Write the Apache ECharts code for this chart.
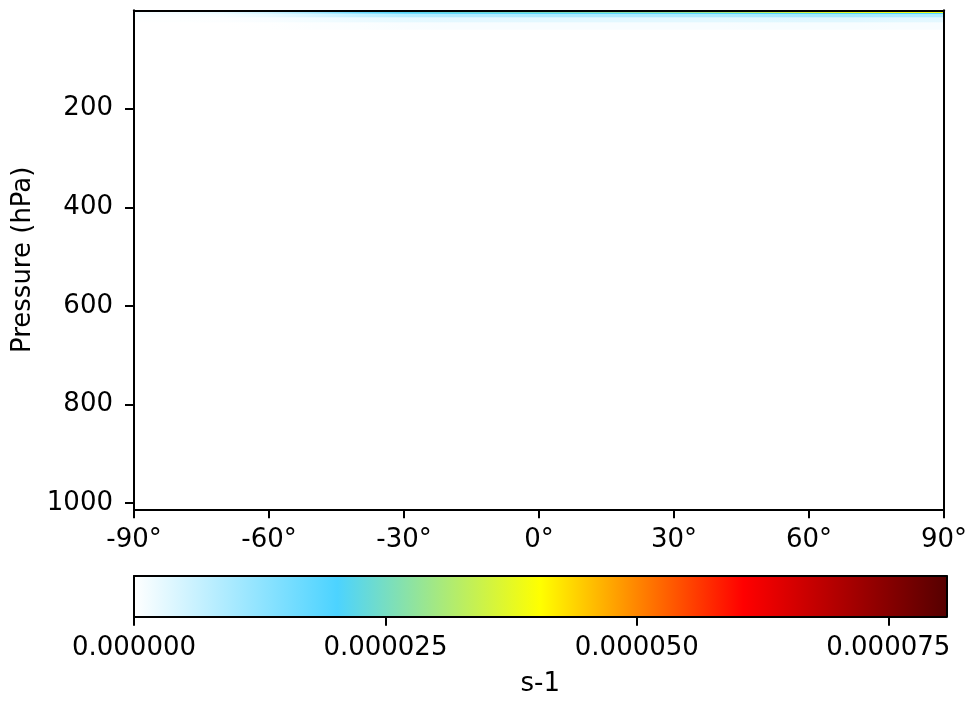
<!DOCTYPE html>
<html><head><meta charset="utf-8">
<script src="https://cdn.jsdelivr.net/npm/echarts@6/dist/echarts.min.js"></script>
<style>html,body{margin:0;padding:0;background:#fff}#c{width:970px;height:701px}</style>
</head><body><div id="c"></div>
<script>
// ---- data ----
const latitudes = [-90,-80,-70,-60,-50,-40,-30,-20,-10,0,10,20,30,40,50,60,70,80,90];
const levels = [1, 2, 3, 5, 7, 10, 20, 30, 50];   // hPa (top levels, rest of column ~0)
const lev1  = [0.3e-5,0.4e-5,0.6e-5,1.2e-5,2.0e-5,2.9e-5,3.8e-5,4.3e-5,4.6e-5,4.8e-5,5.1e-5,5.4e-5,5.7e-5,6.0e-5,6.6e-5,7.6e-5,7.8e-5,6.0e-5,4.6e-5];
const lev2  = [0.25e-5,0.35e-5,0.55e-5,1.1e-5,1.9e-5,2.8e-5,3.6e-5,4.0e-5,4.3e-5,4.5e-5,4.8e-5,5.1e-5,5.4e-5,5.6e-5,6.2e-5,7.2e-5,7.4e-5,5.5e-5,4.3e-5];
const lev3  = [0.2e-5,0.3e-5,0.5e-5,1.0e-5,1.7e-5,2.4e-5,3.0e-5,3.3e-5,3.5e-5,3.6e-5,3.8e-5,4.0e-5,4.2e-5,4.4e-5,4.8e-5,5.6e-5,5.8e-5,4.6e-5,4.0e-5];
const lev5  = [0.1e-5,0.15e-5,0.3e-5,0.6e-5,1.1e-5,1.7e-5,2.1e-5,2.3e-5,2.4e-5,2.5e-5,2.6e-5,2.7e-5,2.8e-5,3.0e-5,3.3e-5,3.6e-5,3.8e-5,3.9e-5,3.9e-5];
const lev7  = [0.08e-5,0.12e-5,0.2e-5,0.45e-5,0.8e-5,1.2e-5,1.6e-5,1.8e-5,1.85e-5,1.9e-5,1.9e-5,1.9e-5,1.9e-5,1.95e-5,2.0e-5,2.1e-5,2.1e-5,2.0e-5,1.9e-5];
const lev10 = [0.04e-5,0.06e-5,0.1e-5,0.25e-5,0.45e-5,0.65e-5,0.8e-5,0.85e-5,0.85e-5,0.9e-5,0.9e-5,0.9e-5,0.9e-5,0.9e-5,0.95e-5,1.0e-5,1.0e-5,0.9e-5,0.85e-5];
const lev20 = [0.01e-5,0.02e-5,0.03e-5,0.08e-5,0.15e-5,0.22e-5,0.28e-5,0.3e-5,0.3e-5,0.32e-5,0.32e-5,0.32e-5,0.32e-5,0.32e-5,0.34e-5,0.35e-5,0.35e-5,0.32e-5,0.3e-5];
const lev30 = [0,0,0.005e-5,0.01e-5,0.03e-5,0.05e-5,0.07e-5,0.08e-5,0.08e-5,0.08e-5,0.08e-5,0.08e-5,0.08e-5,0.08e-5,0.09e-5,0.09e-5,0.09e-5,0.08e-5,0.08e-5];
const lev50 = [0,0,0,0,0,0,0,0,0,0,0,0,0,0,0,0,0,0,0];
const fieldRows = [lev1, lev2, lev3, lev5, lev7, lev10, lev20, lev30, lev50];

const xTickLabels = [-90,-60,-30,0,30,60,90];
const yTickLabels = [200,400,600,800,1000];
const cbarTicks = [0, 0.000025, 0.00005, 0.000075];
const cmapColors = ['#ffffff','#4cd3ff','#ffff00','#ff0000','#560000'];
const vmin = 0, vmax = 0.0000808;
const pTop = 0.5, pBottom = 1012.5;

// ---- colormap helper ----
function hexToRgb(h){return [parseInt(h.substr(1,2),16),parseInt(h.substr(3,2),16),parseInt(h.substr(5,2),16)];}
const cmapRgb = cmapColors.map(hexToRgb);
function cmap(v){
  let t = (v - vmin) / (vmax - vmin);
  t = Math.max(0, Math.min(1, t));
  const n = cmapRgb.length - 1;
  const k = Math.min(n - 1, Math.floor(t * n));
  const f = t * n - k;
  const a = cmapRgb[k], b = cmapRgb[k+1];
  const c = a.map((x,i)=>Math.round(x + (b[i]-x)*f));
  return 'rgb(' + c.join(',') + ')';
}

// ---- build cells: [latA, latB, pUpperEdge, pLowerEdge, vA, vB] ----
const cells = [];
for (let j = 0; j < levels.length; j++) {
  const up = j === 0 ? pTop : (levels[j-1] + levels[j]) / 2;
  const lo = j === levels.length - 1 ? levels[j] : (levels[j] + levels[j+1]) / 2;
  const row = fieldRows[j];
  for (let i = 0; i < latitudes.length - 1; i++) {
    cells.push([latitudes[i], latitudes[i+1], up, lo, row[i], row[i+1]]);
  }
}

const FONT = 'DejaVu Sans';
const FS = 26;
const axisLineStyle = {color:'#000', width:2};
const chart = echarts.init(document.getElementById('c'), null, {renderer:'canvas'});

function spine(extra){
  return Object.assign({
    type:'value', axisLine:{show:true, onZero:false, lineStyle:axisLineStyle},
    axisTick:{show:false}, axisLabel:{show:false}, splitLine:{show:false}, z:10
  }, extra);
}

chart.setOption({
  animation:false,
  backgroundColor:'#ffffff',
  grid:[
    {left:134, top:10.3, width:812.6, height:499},
    {left:134, top:576, width:812.6, height:40.7}
  ],
  xAxis:[
    {type:'value', gridIndex:0, min:-90, max:90, interval:30, position:'bottom', z:10,
     axisLine:{show:true, onZero:false, lineStyle:axisLineStyle},
     axisTick:{show:true, length:9, lineStyle:axisLineStyle},
     axisLabel:{show:true, showMinLabel:true, showMaxLabel:true, margin:18, fontSize:FS, color:'#000', fontFamily:FONT,
       formatter:v => xTickLabels.indexOf(v) >= 0 ? v + '°' : ''},
     splitLine:{show:false}},
    spine({gridIndex:0, min:-90, max:90, position:'top'}),
    {type:'value', gridIndex:1, min:vmin, max:vmax, interval:0.000025, position:'bottom', z:10,
     axisLine:{show:true, onZero:false, lineStyle:axisLineStyle},
     axisTick:{show:true, length:9, lineStyle:axisLineStyle, customValues:cbarTicks},
     axisLabel:{show:true, margin:19, fontSize:FS, color:'#000', fontFamily:FONT, customValues:cbarTicks,
       formatter:v => v.toFixed(6)},
     splitLine:{show:false},
     name:'s-1', nameLocation:'middle', nameGap:55,
     nameTextStyle:{fontSize:FS, color:'#000', fontFamily:FONT}},
    spine({gridIndex:1, min:vmin, max:vmax, position:'top'})
  ],
  yAxis:[
    {type:'value', gridIndex:0, inverse:true, min:pTop, max:pBottom, position:'left', z:10,
     axisLine:{show:true, onZero:false, lineStyle:axisLineStyle},
     axisTick:{show:true, length:9, lineStyle:axisLineStyle, customValues:yTickLabels},
     axisLabel:{show:true, margin:21, fontSize:FS, color:'#000', fontFamily:FONT, customValues:yTickLabels,
       formatter:v => String(v)},
     splitLine:{show:false},
     name:'Pressure (hPa)', nameLocation:'middle', nameGap:92,
     nameTextStyle:{fontSize:FS, color:'#000', fontFamily:FONT}},
    spine({gridIndex:0, inverse:true, min:pTop, max:pBottom, position:'right'}),
    spine({gridIndex:1, min:0, max:1, position:'left'}),
    spine({gridIndex:1, min:0, max:1, position:'right'})
  ],
  series:[
    {type:'custom', xAxisIndex:0, yAxisIndex:0, clip:true, z:2,
     encode:{x:[0,1], y:[2,3]},
     data:cells,
     renderItem:function(params, api){
       const p0 = api.coord([api.value(0), api.value(2)]);
       const p1 = api.coord([api.value(1), api.value(3)]);
       const c0 = cmap(api.value(4)), c1 = cmap(api.value(5));
       return {type:'rect',
         shape:{x:p0[0], y:p0[1], width:p1[0]-p0[0]+0.6, height:p1[1]-p0[1]+0.3},
         style:{fill:new echarts.graphic.LinearGradient(0,0,1,0,[{offset:0,color:c0},{offset:1,color:c1}])}};
     }},
    {type:'custom', xAxisIndex:2, yAxisIndex:2, clip:true, z:2,
     encode:{x:[0,1]},
     data:[[vmin, vmax]],
     renderItem:function(params, api){
       const p0 = api.coord([api.value(0), 1]);
       const p1 = api.coord([api.value(1), 0]);
       const stops = cmapColors.map((c,i)=>({offset:i/(cmapColors.length-1), color:c}));
       return {type:'rect',
         shape:{x:p0[0], y:p0[1], width:p1[0]-p0[0], height:p1[1]-p0[1]},
         style:{fill:new echarts.graphic.LinearGradient(0,0,1,0,stops)}};
     }}
  ]
});
</script>
</body></html>
